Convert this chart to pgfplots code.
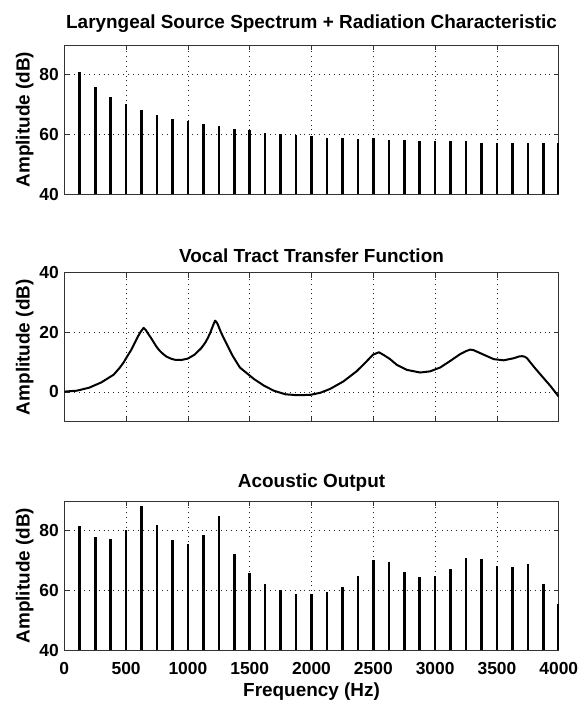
\documentclass[border=0pt]{standalone}
\usepackage{fontspec}
\setmainfont{Liberation Sans}
\usepackage{pgfplots}
\pgfplotsset{compat=1.18}
\usepackage{pgfplotstable}

% Harmonic amplitudes of the laryngeal source (f0 = 125 Hz)
\pgfplotstableread{
f    a
125  80.9
250  75.9
375  72.4
500  70.1
625  68.2
750  66.4
875  65.2
1000 64.6
1125 63.6
1250 62.7
1375 61.9
1500 61.4
1625 60.6
1750 60.1
1875 59.9
2000 59.3
2125 58.9
2250 58.9
2375 58.6
2500 58.7
2625 58.1
2750 58.1
2875 57.7
3000 57.7
3125 57.7
3250 57.7
3375 57.2
3500 57.2
3625 57.2
3750 57.2
3875 57.2
}\sourcetab
% harmonic lying on the upper frequency limit
\pgfplotstableread{
f    a
4000 57.2
}\sourceedge

% Vocal tract transfer function
\pgfplotstableread{
f    g
0    0.1
100  0.4
200  1.4
300  3.2
400  5.8
450  8.2
480  9.9
510  12.0
543  14.2
570  16.5
597  18.7
620  20.3
642  21.5
660  20.7
677  19.6
700  18.2
718  17.0
745  15.2
772  13.8
800  12.7
825  11.9
860  11.2
892  10.8
946  10.7
1000 11.2
1054 12.5
1108 14.7
1140 16.5
1161 18.1
1180 19.8
1196 21.5
1210 23.0
1220 23.9
1230 23.5
1242 22.6
1260 20.7
1282 18.7
1310 16.4
1336 14.2
1362 12.1
1390 10.2
1420 8.2
1455 7.0
1535 4.3
1615 2.1
1695 0.4
1789 -0.8
1882 -1.1
1989 -1.0
2070 -0.3
2150 1.0
2257 3.5
2364 6.9
2444 10.2
2497 12.5
2545 13.3
2591 12.2
2635 11.0
2689 9.1
2770 7.4
2878 6.5
2959 6.9
3041 8.2
3122 10.4
3203 12.7
3250 13.7
3284 14.2
3311 14.0
3392 12.5
3473 11.0
3554 10.6
3635 11.3
3680 11.9
3703 12.0
3725 11.8
3743 11.3
3797 8.5
3865 5.2
3932 2.0
4000 -1.6
}\vttab

% Harmonic amplitudes at the lips
\pgfplotstableread{
f    a
125  81.6
250  77.8
375  77.3
500  80.2
625  88.3
750  82.0
875  76.9
1000 75.6
1125 78.6
1250 84.9
1375 72.1
1500 65.8
1625 62.0
1750 60.0
1875 58.7
2000 58.7
2125 59.4
2250 61.2
2375 65.0
2500 70.1
2625 69.7
2750 66.2
2875 64.6
3000 65.0
3125 67.1
3250 70.9
3375 70.6
3500 68.3
3625 68.0
3750 68.8
3875 62.1
}\outtab
\pgfplotstableread{
f    a
4000 55.3
}\outedge

\pgfplotsset{
  spec/.style={
    scale only axis,
    width=494.5bp, height=149bp,
    xmin=0, xmax=4000,
    xtick={0,500,...,4000},
    grid=major,
    major grid style={black!85, line width=0.8bp, dash pattern=on 0.9bp off 4bp},
    axis line style={black!80, line width=0.8bp},
    tick style={black!80, line width=0.8bp},
    major tick length=5bp,
    tick align=inside,
    tick pos=both,
    /pgf/number format/1000 sep={},
    /pgf/number format/assume math mode=true,
    ticklabel style={font=\fontsize{17.5}{17.5}\selectfont\bfseries},
    yticklabel style={xshift=-2bp},
    xticklabel style={yshift=-9bp},
    label style={font=\fontsize{19}{19}\selectfont\bfseries},
    title style={font=\fontsize{19}{19}\selectfont\bfseries},
    ylabel={Amplitude (dB)},
    ylabel style={yshift=-1bp},
    xlabel style={yshift=-1bp},
  },
  stem/.style={ycomb, black, line width=2.6bp},
  edgestem/.style={ycomb, black, line width=1.4bp, xshift=-0.7bp},
}

\begin{document}
\begin{tikzpicture}
\path[use as bounding box] (0,0) rectangle (579bp,-706bp);

\begin{axis}[spec, at={(64.3bp,-194bp)}, anchor=south west,
  ymin=40, ymax=90, ytick={40,60,80}, xticklabels={},
  title style={yshift=3bp},
  title={Laryngeal Source Spectrum + Radiation Characteristic}]
  \addplot[stem] table[x=f, y=a] {\sourcetab};
  \addplot[edgestem] table[x=f, y=a] {\sourceedge};
\end{axis}

\begin{axis}[spec, at={(64.3bp,-421.7bp)}, anchor=south west,
  ymin=-10, ymax=40, ytick={0,20,40}, xticklabels={},
  title style={yshift=1bp},
  title={Vocal Tract Transfer Function}]
  \addplot[black, line width=2bp, line join=round] table[x=f, y=g] {\vttab};
\end{axis}

\begin{axis}[spec, at={(64.3bp,-650bp)}, anchor=south west,
  ymin=40, ymax=90, ytick={40,60,80},
  xlabel={Frequency (Hz)},
  title={Acoustic Output}]
  \addplot[stem] table[x=f, y=a] {\outtab};
  \addplot[edgestem] table[x=f, y=a] {\outedge};
\end{axis}
\end{tikzpicture}
\end{document}
